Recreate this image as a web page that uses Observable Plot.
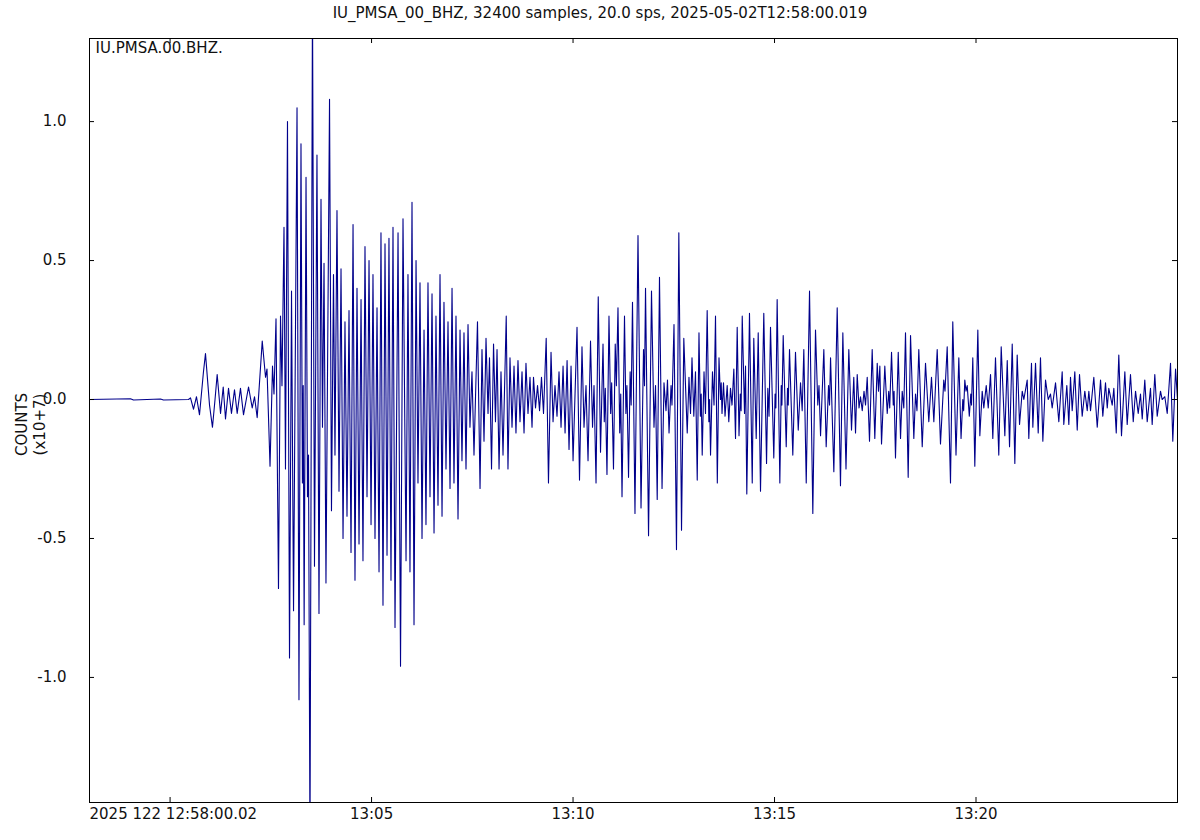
<!DOCTYPE html>
<html>
<head>
<meta charset="utf-8">
<script src="https://cdn.jsdelivr.net/npm/d3@7"></script>
<script src="https://cdn.jsdelivr.net/npm/@observablehq/plot@0.6"></script>
<style>
  html, body { margin: 0; padding: 0; background: #ffffff; }
  #title { width: 1200px; height: 26px; line-height: 26px; text-align: center;
           font-family: "DejaVu Sans", sans-serif; font-size: 15px; color: #111; }
</style>
</head>
<body>
<div id="title"></div>
<div id="chart"></div>
<script>
// ---- texts ----
const titleText = "IU_PMSA_00_BHZ, 32400 samples, 20.0 sps, 2025-05-02T12:58:00.019";
const traceLabel = "IU.PMSA.00.BHZ.";
const yLabel = "COUNTS\n(x10+7)";
const startLabel = "2025 122 12:58:00.02";
const startTime = "2025-05-02T12:58:00.019Z";
const durationSeconds = 1620; // 32400 samples at 20 sps

// ---- axes ----
const yTicks = [-1, -0.5, 0, 0.5, 1];
const yDomain = [-1.45, 1.299];
const xTickTimes = ["13:00", "13:05", "13:10", "13:15", "13:20"];
const xTickLabels = ["", "13:05", "13:10", "13:15", "13:20"];

// ---- waveform extrema: [seconds after start, counts x1e7] ----
const preEvent = [
  [0, 0], [61.0, 0.003], [65.5, -0.002], [105.7, 0.002], [110.2, -0.002], [147.4, 0]
];
const pWave = [
  [150.4, 0.006], [154.9, -0.035], [159.3, 0.01], [163.8, -0.055], [169.7, 0.10], [172.7, 0.165],
  [178.7, -0.02], [183.1, -0.10], [186.9, 0.0], [190.1, 0.09], [195.1, -0.05], [199.1, 0.045],
  [202.5, -0.07], [207.0, 0.04], [211.4, -0.05], [215.9, 0.035], [219.9, -0.05], [224.8, 0.04],
  [229.3, -0.055], [236.8, 0.045], [242.3, -0.03], [245.7, 0.01], [249.7, -0.065], [257.2, 0.21]
];
const mainPhase = [
  [262.1, 0.08], [264.3, 0.11], [268.8, -0.24], [272.5, 0.12], [274.7, 0.02], [277.7, 0.29],
  [281.4, -0.68], [284.4, 0.30], [286.6, 0.05], [289.6, 0.62], [291.8, -0.25], [294.8, 1.00],
  [297.8, -0.93], [300.8, 0.39], [303.8, -0.76], [309.0, 1.05], [311.9, -1.08], [314.9, 0.92],
  [317.0, -0.30], [318.2, 0.05], [319.6, -0.81], [322.4, 0.80], [324.6, -0.35], [326.1, -0.20],
  [328.3, -1.60], [332.0, 1.45], [335.0, -0.60], [338.7, 0.88], [341.7, -0.77], [344.7, 0.72],
  [346.9, -0.10], [349.2, 0.49], [352.1, -0.66], [357.4, 1.08], [360.3, -0.40], [363.3, 0.45],
  [365.5, -0.20], [368.5, 0.68], [371.5, -0.33], [374.5, 0.47], [377.5, -0.50], [380.4, 0.28],
  [383.4, -0.42], [386.4, 0.32], [389.4, -0.55], [392.4, 0.63], [395.3, -0.65], [398.3, 0.40],
  [401.3, -0.52], [404.3, 0.36], [407.2, -0.58], [410.2, 0.55], [413.2, -0.35], [416.2, 0.50],
  [419.2, -0.45], [422.1, 0.45], [425.1, -0.50], [428.1, 0.33], [431.1, -0.62], [434.0, 0.60],
  [437.0, -0.74], [440.0, 0.56], [443.0, -0.56], [445.9, 0.58], [448.9, -0.65], [451.9, 0.62],
  [454.9, -0.82], [459.4, 0.60], [463.1, -0.96], [466.8, 0.65], [471.3, -0.58], [474.2, 0.45],
  [477.2, -0.62], [480.2, 0.71], [483.2, -0.81], [486.2, 0.50], [489.1, -0.30], [492.1, 0.42],
  [495.1, -0.50], [498.1, 0.25], [501.0, -0.45], [504.0, 0.42], [507.0, -0.35], [510.0, 0.38],
  [513.0, -0.48], [515.9, 0.30], [518.9, -0.38], [521.9, 0.45], [524.9, -0.42], [527.8, 0.35],
  [530.8, -0.25], [533.8, 0.28], [536.8, -0.32], [539.8, 0.40], [542.7, -0.30], [545.7, 0.30],
  [548.7, -0.43], [551.7, 0.25], [554.6, -0.22], [557.6, 0.24], [560.6, -0.25]
];
const codaA = [
  [563.6, 0.27], [566.5, -0.10], [569.5, 0.10], [572.5, -0.20], [577.7, 0.28], [581.5, -0.32],
  [584.4, 0.18], [587.4, -0.15], [590.4, 0.22], [593.4, -0.05], [595.6, 0.15], [598.6, -0.25],
  [601.6, 0.20], [604.5, -0.08], [606.8, 0.18], [609.8, -0.25], [612.7, 0.10], [615.7, -0.20],
  [620.5, 0.30], [623.1, -0.25], [626.1, 0.15], [629.1, -0.10], [632.1, 0.12], [635.0, -0.12],
  [638.0, 0.14], [641.0, -0.08], [644.0, 0.10], [647.0, -0.12], [649.9, 0.13], [652.9, -0.05],
  [655.9, 0.08], [658.9, -0.10], [661.1, 0.08], [664.1, -0.03], [667.1, 0.05], [670.1, -0.04],
  [673.0, 0.08], [676.0, -0.05], [680.0, 0.22], [683.4, -0.30], [687.2, 0.17], [690.2, -0.08],
  [693.1, 0.05], [696.1, -0.06], [699.1, 0.10]
];
const codaB = [
  [702.1, -0.10], [705.1, 0.12], [708.1, -0.12], [711.1, 0.14], [714.0, -0.18], [717.0, 0.12],
  [720.0, -0.22], [725.9, 0.26], [729.6, -0.29], [733.3, 0.19], [736.3, -0.10], [739.3, 0.05],
  [742.3, -0.22], [746.0, 0.21], [749.0, -0.10], [751.2, 0.05], [754.2, -0.30], [757.5, 0.37],
  [760.9, -0.19], [764.6, 0.20], [766.5, -0.08], [768.0, 0.04], [770.5, -0.27], [773.5, 0.30],
  [776.0, -0.05], [777.5, 0.06], [780.2, -0.25], [782.8, 0.20], [784.5, 0.05], [786.9, 0.33],
  [789.5, -0.12], [791.0, 0.02], [792.9, -0.35], [796.6, 0.30], [798.7, -0.05], [800.2, 0.05],
  [802.6, -0.28], [805.0, 0.10], [806.5, -0.02], [808.5, 0.35], [812.2, -0.41], [816.7, 0.59],
  [821.2, -0.39], [824.9, 0.18], [826.4, 0.05], [827.9, 0.40], [832.4, -0.49], [836.8, 0.39],
  [840.5, -0.10], [842.8, 0.05], [845.3, -0.36], [848.7, 0.44], [852.5, -0.32], [855.4, 0.06],
  [858.4, -0.04], [860.6, 0.07], [862.9, -0.12], [865.9, 0.05], [867.3, -0.02], [870.3, 0.27],
  [874.0, -0.54], [877.5, 0.60], [881.5, -0.47], [884.9, 0.22], [890.0, -0.12], [892.6, 0.08],
  [894.9, -0.05], [897.1, 0.15], [899.8, -0.06], [902.3, 0.10], [904.9, -0.29], [907.5, 0.24],
  [909.6, -0.06], [910.8, 0.02], [912.3, -0.20], [915.0, 0.10], [917.2, -0.05], [919.7, 0.32],
  [922.2, -0.08], [923.3, 0.0], [924.7, -0.20], [927.6, 0.10], [929.9, -0.02], [932.1, 0.30],
  [934.8, -0.30], [937.3, 0.15], [939.5, 0.0], [940.6, 0.06], [941.8, -0.05], [944.0, 0.06],
  [946.3, -0.06], [949.5, 0.05], [951.9, -0.08], [954.4, 0.04], [956.7, -0.02], [959.4, 0.11],
  [961.9, -0.14]
];
const codaC = [
  [964.4, 0.26], [967.1, -0.13], [969.0, 0.02], [970.2, -0.04], [971.9, 0.30], [975.3, -0.05],
  [976.8, 0.12], [978.7, -0.34], [982.7, 0.31], [986.8, -0.30], [989.1, 0.22], [992.7, -0.14],
  [995.7, 0.24], [999.1, -0.33], [1004.0, 0.31], [1008.1, -0.23], [1010.0, 0.04], [1011.8, -0.06],
  [1014.0, 0.26], [1018.9, -0.21], [1020.8, 0.02], [1022.0, -0.03], [1023.9, 0.36], [1027.9, -0.30],
  [1030.0, 0.05], [1031.0, -0.02], [1032.9, 0.23], [1037.4, -0.17], [1039.3, 0.04], [1040.4, -0.02],
  [1042.3, 0.18], [1047.2, -0.20], [1051.2, 0.17], [1055.3, -0.11], [1058.7, 0.06], [1061.2, -0.04],
  [1063.6, 0.18], [1067.2, -0.30], [1072.1, 0.39], [1077.0, -0.41], [1081.0, 0.25], [1084.4, -0.02],
  [1086.2, 0.05], [1088.5, -0.13], [1093.4, 0.18], [1096.9, -0.17], [1100.4, 0.05], [1101.9, -0.02],
  [1103.4, 0.15], [1108.3, -0.26], [1113.3, 0.33], [1118.2, -0.31], [1121.7, 0.24], [1126.4, -0.25],
  [1130.6, 0.18], [1134.6, -0.11], [1138.0, 0.08], [1140.6, -0.12], [1143.1, 0.09], [1145.8, -0.03],
  [1148.0, 0.01], [1150.6, -0.04], [1153.2, 0.03], [1155.5, -0.02], [1158.0, 0.08], [1161.4, -0.15],
  [1165.4, 0.18], [1169.3, -0.14], [1172.9, 0.13], [1174.8, 0.03], [1176.8, 0.12], [1179.3, -0.16],
  [1184.2, 0.12], [1187.8, -0.05], [1190.0, 0.03], [1191.5, -0.03], [1194.2, 0.17], [1196.8, -0.02],
  [1198.0, 0.03], [1200.1, -0.21], [1204.2, 0.17], [1207.6, -0.14], [1210.1, 0.03], [1212.5, -0.03],
  [1215.0, 0.24], [1219.0, -0.28], [1222.5, 0.23], [1227.4, -0.14], [1229.9, 0.02], [1232.1, -0.04],
  [1234.8, 0.18], [1239.9, -0.17], [1244.8, 0.13], [1249.7, -0.08], [1253.7, 0.08], [1257.2, -0.08],
  [1262.2, 0.18], [1267.1, -0.16], [1272.0, 0.07], [1273.8, 0.03], [1277.1, 0.19], [1282.0, -0.30],
  [1285.4, 0.28], [1290.2, -0.20], [1294.4, 0.15]
];
const codaD = [
  [1297.7, -0.14], [1300.3, 0.0], [1301.6, -0.04], [1303.3, 0.07], [1305.1, 0.03], [1306.9, 0.05],
  [1310.0, -0.06], [1312.2, 0.02], [1313.3, -0.02], [1315.2, 0.15], [1318.2, -0.24], [1322.7, 0.25],
  [1325.7, -0.13], [1329.2, 0.03], [1331.6, -0.03], [1335.2, 0.05], [1338.2, -0.03], [1341.6, 0.09],
  [1345.0, -0.14], [1349.0, 0.15], [1353.9, -0.20], [1357.5, 0.19], [1362.9, -0.13], [1366.5, 0.14],
  [1369.9, -0.17], [1373.9, 0.20], [1377.8, -0.23], [1381.3, 0.16], [1384.8, -0.09], [1388.8, 0.03],
  [1391.2, 0.0], [1396.2, 0.07], [1398.6, -0.14], [1402.6, 0.13], [1404.6, -0.10], [1408.6, 0.13],
  [1412.6, -0.12], [1416.0, 0.15], [1419.5, -0.15], [1423.5, 0.07], [1427.5, 0.0], [1430.9, 0.02],
  [1433.4, -0.03], [1438.4, 0.06], [1443.3, -0.08], [1448.3, 0.10], [1450.7, -0.09], [1455.2, 0.05],
  [1458.2, -0.09], [1460.7, 0.08], [1463.2, -0.04], [1467.1, 0.10], [1470.7, -0.11], [1474.1, 0.09],
  [1478.1, -0.06], [1482.0, 0.03], [1485.6, -0.04], [1488.0, 0.03], [1490.5, -0.04], [1495.4, 0.08],
  [1500.5, -0.10], [1505.4, 0.07], [1508.8, -0.06], [1512.8, 0.06], [1515.4, -0.03], [1517.7, 0.04],
  [1522.8, -0.02], [1525.2, 0.04], [1528.8, -0.12], [1532.6, 0.16], [1536.6, -0.13], [1541.6, 0.10],
  [1545.1, -0.09], [1550.0, 0.09], [1554.1, -0.08], [1557.5, 0.03], [1561.5, -0.05], [1564.9, 0.02],
  [1567.5, -0.07], [1571.3, 0.07], [1574.9, -0.08], [1579.8, 0.04], [1582.3, -0.09], [1586.2, 0.09],
  [1589.8, -0.06], [1594.7, 0.03], [1597.2, 0.0], [1601.1, 0.01], [1604.7, -0.05], [1609.6, 0.13],
  [1613.0, -0.15], [1617.1, 0.11], [1620.0, 0.0]
];

// ---- build ----
document.getElementById("title").textContent = titleText;
const t0 = new Date(startTime).getTime();
const points = [...preEvent, ...pWave, ...mainPhase, ...codaA, ...codaB, ...codaC, ...codaD]
  .map(([s, c]) => ({time: new Date(t0 + s * 1000), counts: c}));
const xTicks = xTickTimes.map(s => new Date(`2025-05-02T${s}:00Z`));
const labelByTime = new Map(xTicks.map((d, i) => [+d, xTickLabels[i]]));

const W = 1200, H = 814, mT = 12, mB = 38, mL = 89, mR = 23;
const frameW = W - mL - mR, frameH = H - mT - mB, tickLen = 5;

const chart = Plot.plot({
  width: W, height: H,
  marginTop: mT, marginBottom: mB, marginLeft: mL, marginRight: mR,
  style: {fontFamily: "'DejaVu Sans', sans-serif", fontSize: "15px", color: "#111", background: "#ffffff", overflow: "visible"},
  x: {type: "utc", domain: [new Date(t0), new Date(t0 + durationSeconds * 1000)]},
  y: {domain: yDomain},
  marks: [
    Plot.line(points, {x: "time", y: "counts", stroke: "#00008b", strokeWidth: 1.1, clip: true}),
    Plot.frame({stroke: "#000", strokeWidth: 1}),
    Plot.tickX(xTicks, {x: d => d, insetTop: frameH - tickLen, stroke: "#000"}),
    Plot.tickX(xTicks, {x: d => d, insetBottom: frameH - tickLen, stroke: "#000"}),
    Plot.tickY(yTicks, {y: d => d, insetRight: frameW - tickLen, stroke: "#000"}),
    Plot.tickY(yTicks, {y: d => d, insetLeft: frameW - tickLen, stroke: "#000"}),
    Plot.axisX(xTicks, {tickSize: 0, tickPadding: 6, tickFormat: d => labelByTime.get(+d) ?? "", label: null}),
    Plot.axisY(yTicks, {tickSize: 0, tickPadding: 23, tickFormat: d => d.toFixed(1), label: null}),
    Plot.text([startLabel], {frameAnchor: "bottom-left", dy: 6, lineAnchor: "top", textAnchor: "start"}),
    Plot.text([traceLabel], {frameAnchor: "top-left", dx: 6, dy: 4, lineAnchor: "top", textAnchor: "start"}),
    Plot.text([yLabel], {frameAnchor: "left", rotate: -90, dx: -59, dy: 4, lineAnchor: "middle", textAnchor: "middle", lineHeight: 1.15})
  ]
});
document.getElementById("chart").appendChild(chart);
</script>
</body>
</html>
